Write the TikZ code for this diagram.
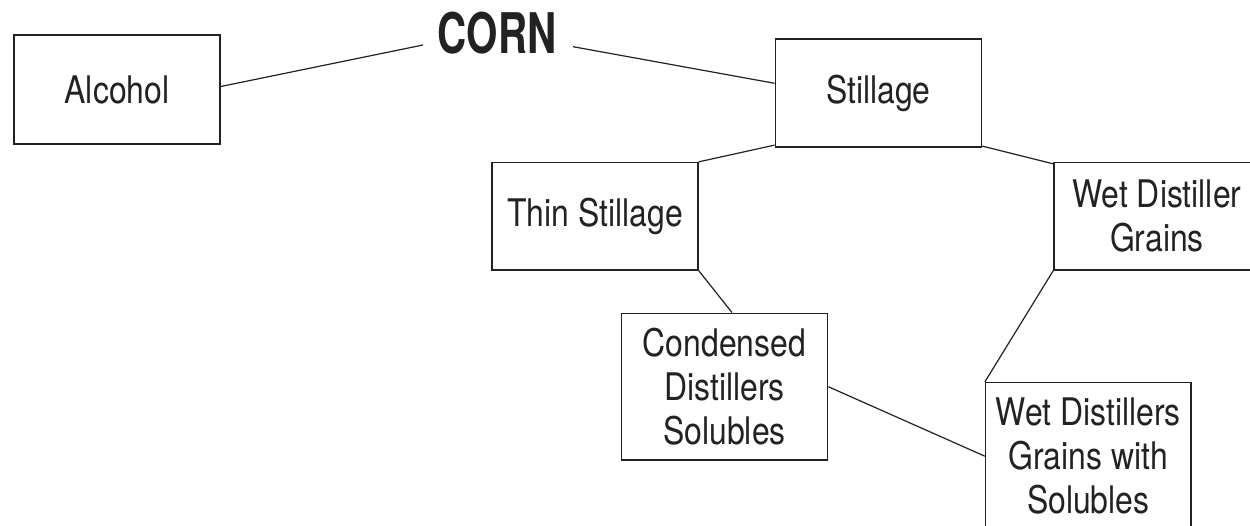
\documentclass[tikz,border=0pt]{standalone}
\usepackage{fontspec}
\setmainfont{TeX Gyre Heros}[FakeStretch=0.84]
\newfontfamily\cornfont{TeX Gyre Heros}[FakeStretch=0.72]
\definecolor{ink}{HTML}{222222}
\begin{document}
\begin{tikzpicture}[x=1pt,y=-1pt,
  boxnode/.style={draw=ink, line width=1.6pt, inner sep=0pt, align=center,
    text=ink, font=\fontsize{38}{44}\selectfont, minimum width=206pt},
  link/.style={draw=ink, line width=1.2pt}]
\clip (0,0) rectangle (1250,526);
\fill[white] (0,0) rectangle (1250,526);
\node[boxnode, minimum height=109pt] (alc) at (117,89.5) {Alcohol};
\node[inner sep=0pt, text=ink, font=\cornfont\bfseries\fontsize{56}{60}\selectfont] (corn) at (497,33) {CORN};
\node[boxnode, minimum height=108pt] (still) at (878.4,93.3) {Stillage};
\node[boxnode, minimum height=107.3pt] (thin) at (595,216.3) {Thin Stillage};
\node[boxnode, minimum height=107.3pt] (wdg) at (1157,216.3) {Wet Distiller\\Grains};
\node[boxnode, minimum height=146.7pt] (cds) at (724.5,386.7) {Condensed\\Distillers\\Solubles};
\node[boxnode, minimum height=147pt, minimum width=205.3pt] (wdgs) at (1088.3,456.2) {Wet Distillers\\Grains with\\Solubles};
\draw[link] ([yshift=3pt]alc.east) -- ([shift={(-74,12)}]corn.center);
\draw[link] ([shift={(76,13.7)}]corn.center) -- ([yshift=10pt]still.west);
\draw[link] ([yshift=3pt]still.south west) -- (thin.north east);
\draw[link] ([yshift=2pt]still.south east) -- ([yshift=-2pt]wdg.north west);
\draw[link] (thin.south east) -- ([xshift=7.5pt]cds.north);
\draw[link] (wdg.south west) -- (wdgs.north west);
\draw[link] (cds.east) -- (wdgs.west);
\end{tikzpicture}
\end{document}
